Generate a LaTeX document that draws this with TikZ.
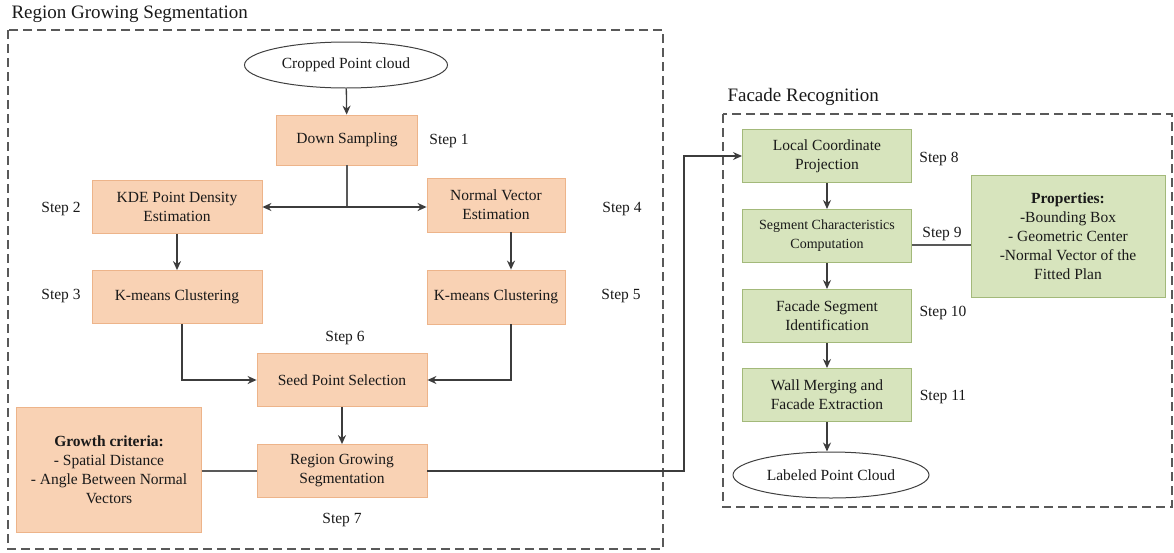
\documentclass[tikz,border=0pt]{standalone}
\usepackage{fontspec}
\setmainfont{Liberation Serif}
\usetikzlibrary{shapes.geometric,arrows.meta}
\definecolor{peach}{HTML}{F9D2B4}
\definecolor{peachline}{HTML}{EDB48A}
\definecolor{sage}{HTML}{D7E4BD}
\definecolor{sageline}{HTML}{A3B97A}
\definecolor{ink}{HTML}{3C3C3C}

\begin{document}
\begin{tikzpicture}[x=1pt, y=-1pt,
    every node/.append style={font=\fontsize{15.5}{19}\selectfont, align=center, text=black!90},
    flow/.style={draw=ink, line width=1.3pt, -{Stealth[length=9pt,width=8pt]}},
    link/.style={draw=ink!85, line width=1.3pt},
    frame/.style={draw=black!65, line width=1.3pt, dash pattern=on 9pt off 5pt},
    title/.style={anchor=west, font=\fontsize{19}{21}\selectfont}]
  \tikzstyle{orangebox} = [rectangle, fill=peach, draw=peachline, line width=0.8pt, inner sep=0pt, minimum width=170pt, minimum height=53pt]
  \tikzstyle{greenbox} = [rectangle, fill=sage, draw=sageline, line width=1pt, inner sep=0pt, minimum width=169pt, minimum height=53pt]
  \tikzstyle{cloud} = [ellipse, draw=black!75, line width=1pt, fill=white, inner sep=0pt, minimum height=46pt]
  \useasboundingbox (0,0) rectangle (1174,552);

  \draw[frame] (8,30) rectangle (663,549);
  \node[title] (rgtitle) at (8,14) {Region Growing Segmentation};
  \draw[frame] (723,114) rectangle (1172,507);
  \node[title] (frtitle) at (724,97) {Facade Recognition};

  \node[cloud, minimum width=203pt] (input) at (346,65) {Cropped Point cloud};
  \node[orangebox, minimum width=141pt, minimum height=50pt] (down) at (347,140) {Down Sampling};
  \node (s1) at (449,141) {Step 1};
  \node[orangebox] (kde) at (177,207) {KDE Point Density\\Estimation};
  \node (s2) at (61,209) {Step 2};
  \node[orangebox] (kmeansL) at (177,297) {K-means Clustering};
  \node (s3) at (61,296) {Step 3};
  \node[orangebox, minimum width=138pt, minimum height=54pt] (normal) at (496,205) {Normal Vector\\Estimation};
  \node (s4) at (622,209) {Step 4};
  \node[orangebox, minimum width=138pt, minimum height=54pt] (kmeansR) at (496,297) {K-means Clustering};
  \node (s5) at (621,296) {Step 5};
  \node[orangebox] (seed) at (342,380) {Seed Point Selection};
  \node (s6) at (345,338) {Step 6};
  \node[orangebox] (grow) at (342,471) {Region Growing\\Segmentation};
  \node (s7) at (342,520) {Step 7};
  \node[orangebox, minimum width=185pt, minimum height=125pt] (criteria) at (109,470) {\textbf{Growth criteria:}\\- Spatial Distance\\- Angle Between Normal\\Vectors};

  \node[greenbox] (local) at (827,156) {Local Coordinate\\Projection};
  \node (s8) at (939,159) {Step 8};
  \node[greenbox, font=\fontsize{14}{19}\selectfont] (segchar) at (827,236) {Segment Characteristics\\Computation};
  \node (s9) at (942,234) {Step 9};
  \node[greenbox, minimum width=194pt, minimum height=122pt] (props) at (1068,236) {\textbf{Properties:}\\-Bounding Box\\- Geometric Center\\-Normal Vector of the\\Fitted Plan};
  \node[greenbox] (facseg) at (827,316) {Facade Segment\\Identification};
  \node (s10) at (943,313) {Step 10};
  \node[greenbox] (wall) at (827,395) {Wall Merging and\\Facade Extraction};
  \node (s11) at (943,397) {Step 11};
  \node[cloud, minimum width=196pt] (output) at (831,475) {Labeled Point Cloud};

  \coordinate (split) at (347,207);
  \coordinate (elbow) at (684,0);
  \draw[flow] (input) -- (down);
  \draw[link] (down.south) -- (split);
  \draw[flow] (split) -- (kde.east);
  \draw[flow] (split) -- (split -| normal.west);
  \draw[flow] (kde) -- (kmeansL);
  \draw[flow] ([xshift=15pt]normal.south) -- ([xshift=15pt]kmeansR.north);
  \draw[flow] ([xshift=5pt]kmeansL.south) |- (seed.west);
  \draw[flow] ([xshift=15pt]kmeansR.south) |- (seed.east);
  \draw[flow] (seed) -- (grow);
  \draw[link] (grow.west -| criteria.east) -- (grow.west);
  \draw[flow] (grow.east) -- (grow.east -| elbow) |- (local.west);
  \draw[flow] (local) -- (segchar);
  \draw[flow] (segchar) -- (facseg);
  \draw[flow] (facseg) -- (wall);
  \draw[flow] (wall) -- (wall |- output.north);
  \draw[link] ([yshift=-9pt]segchar.east) -- ([yshift=-9pt]segchar.east -| props.west);
\end{tikzpicture}
\end{document}
